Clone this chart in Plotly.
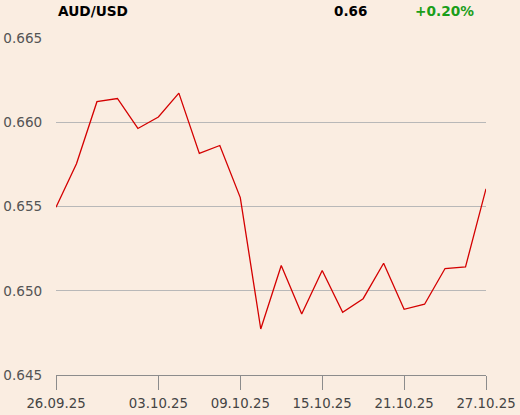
import plotly.graph_objects as go

dates = ["26.09.25", "29.09.25", "30.09.25", "01.10.25", "02.10.25", "03.10.25",
         "06.10.25", "07.10.25", "08.10.25", "09.10.25", "10.10.25", "13.10.25",
         "14.10.25", "15.10.25", "16.10.25", "17.10.25", "20.10.25", "21.10.25",
         "22.10.25", "23.10.25", "24.10.25", "27.10.25"]
values = [0.65496, 0.65754, 0.66122, 0.66141, 0.65963, 0.66031, 0.66173, 0.65815,
          0.65862, 0.65553, 0.64773, 0.65150, 0.64862, 0.65120, 0.64872, 0.64953,
          0.65163, 0.64890, 0.64920, 0.65132, 0.65142, 0.65605]
tick_labels = ["26.09.25", "03.10.25", "09.10.25", "15.10.25", "21.10.25", "27.10.25"]
y_ticks = [0.645, 0.650, 0.655, 0.660, 0.665]

title_name = "AUD/USD"
title_value = "0.66"
title_change = "+0.20%"

bg = "#FAEDE1"
L, R, T, B = 56, 34, 38, 40
W, H = 520, 415
pw = W - L - R
ph = H - T - B


def px_to_paper(px, py):
    return (px - L) / pw, (H - B - py) / ph


fig = go.Figure()
fig.add_trace(go.Scatter(
    x=dates, y=values, mode="lines",
    line=dict(color="#D40000", width=1.3),
    hoverinfo="skip",
))

annos = []
for txt, px, color, size in [(title_name, 56, "#000000", 13.7),
                             (title_value, 332, "#000000", 13.5),
                             (title_change, 413, "#1A9E1A", 13.7)]:
    ax, ay = px_to_paper(px, 11)
    annos.append(dict(text="<b>%s</b>" % txt, x=ax, y=ay, xref="paper", yref="paper",
                      showarrow=False, xanchor="left", yanchor="middle",
                      font=dict(size=size, color=color)))

fig.update_layout(
    width=W, height=H,
    margin=dict(l=L, r=R, t=T, b=B),
    paper_bgcolor=bg, plot_bgcolor=bg,
    showlegend=False,
    font=dict(family="DejaVu Sans", size=13, color="#555555"),
    xaxis=dict(
        type="category", automargin=False,
        range=[0, len(dates) - 1],
        tickmode="array", tickvals=tick_labels, ticktext=tick_labels,
        showgrid=False, zeroline=False,
        showline=True, linecolor="#8c8c8c", linewidth=1,
        ticks="outside", ticklen=14, tickcolor="#8c8c8c", tickwidth=1,
        ticklabelstandoff=2,
        tickfont=dict(size=13.3, color="#444444"),
    ),
    yaxis=dict(
        automargin=False,
        range=[0.645, 0.665],
        tickmode="array", tickvals=y_ticks, tickformat=".3f",
        showgrid=True, gridcolor="#b8b8b8", gridwidth=1,
        zeroline=False, showline=False,
        ticks="outside", ticklen=10, tickcolor="rgba(0,0,0,0)",
        tickfont=dict(size=13.6, color="#555555"),
    ),
    annotations=annos,
)

fig.write_html(
    "out.html",
    config={"displayModeBar": False},
    post_script="document.body.style.margin='0';document.body.style.background='%s';" % bg,
)
